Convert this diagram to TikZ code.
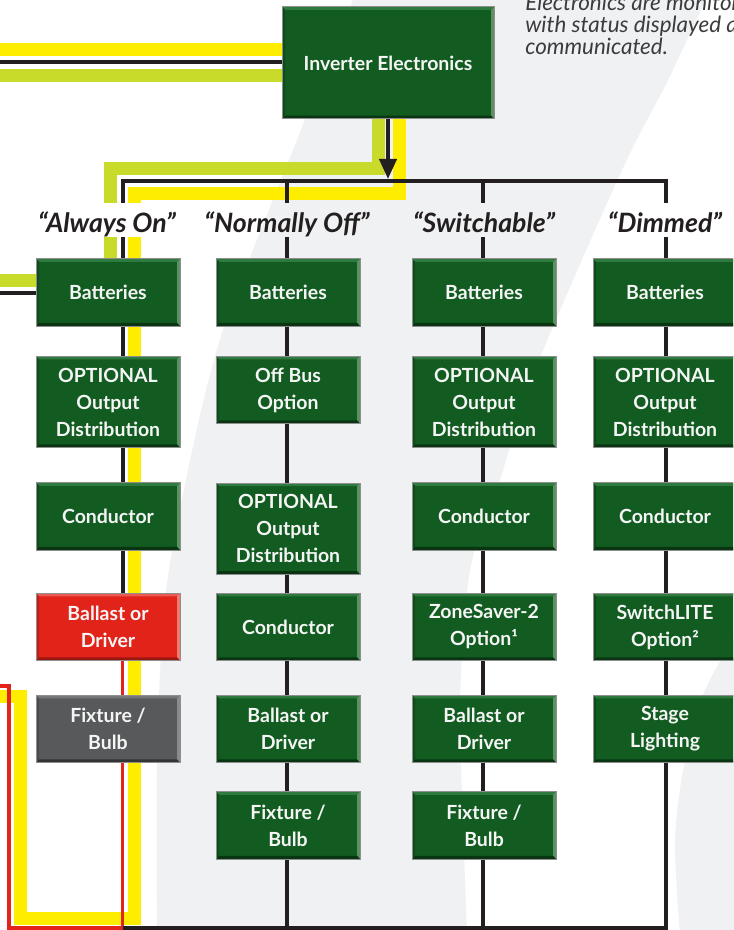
\documentclass[tikz,border=0pt]{standalone}
\usepackage{fontspec}
\setmainfont{Lato}
\usetikzlibrary{arrows.meta}
\definecolor{bggray}{HTML}{F0F1F3}
\definecolor{ylw}{HTML}{FFED00}
\definecolor{lgrn}{HTML}{C9DB2A}
\definecolor{blk}{HTML}{231F20}
\definecolor{redw}{HTML}{E3241B}
\definecolor{boxedge}{HTML}{8E8E8E}
\definecolor{boxtext}{HTML}{F5F5F5}
\definecolor{gmain}{HTML}{125C21}
\definecolor{gtop}{HTML}{2F7A3E}
\definecolor{gright}{HTML}{5B9163}
\definecolor{gbot}{HTML}{0A3512}
\definecolor{gleft}{HTML}{0E4A1A}
\definecolor{rmain}{HTML}{E2231A}
\definecolor{rtop}{HTML}{EA5A52}
\definecolor{rright}{HTML}{EE7A72}
\definecolor{rbot}{HTML}{9B1711}
\definecolor{rleft}{HTML}{C01D16}
\definecolor{kmain}{HTML}{58595B}
\definecolor{ktop}{HTML}{77787A}
\definecolor{kright}{HTML}{8A8B8D}
\definecolor{kbot}{HTML}{333435}
\definecolor{kleft}{HTML}{4A4B4D}
\definecolor{notegray}{HTML}{3C3C3C}
\newcommand\boxfont{\fontsize{14.6pt}{20.25pt}\selectfont\bfseries}
\newcommand\labfont{\fontsize{20pt}{22pt}\selectfont\bfseries\itshape}
\newcommand\notefont{\fontsize{16.8pt}{16.5pt}\selectfont\itshape}
\newcommand\labtext[1]{\raisebox{-3.75pt}{#1}}
\pgfdeclarelayer{bg}
\pgfdeclarelayer{wires}
\pgfsetlayers{bg,wires,main}
\tikzset{
  bevelbox/.style n args={5}{fill=#1, draw=boxedge, line width=0.75pt,
    path picture={
      \fill[#2] (path picture bounding box.north west) -- (path picture bounding box.north east)
        -- ([shift={(-2.25pt,-2.25pt)}]path picture bounding box.north east)
        -- ([shift={(2.25pt,-2.25pt)}]path picture bounding box.north west) -- cycle;
      \fill[#3] (path picture bounding box.north east) -- (path picture bounding box.south east)
        -- ([shift={(-2.25pt,2.6pt)}]path picture bounding box.south east)
        -- ([shift={(-2.25pt,-2.25pt)}]path picture bounding box.north east) -- cycle;
      \fill[#4] (path picture bounding box.south west) -- (path picture bounding box.south east)
        -- ([shift={(-2.25pt,2.6pt)}]path picture bounding box.south east)
        -- ([shift={(2.25pt,2.6pt)}]path picture bounding box.south west) -- cycle;
      \fill[#5] (path picture bounding box.north west) -- (path picture bounding box.south west)
        -- ([shift={(2.25pt,2.6pt)}]path picture bounding box.south west)
        -- ([shift={(2.25pt,-2.25pt)}]path picture bounding box.north west) -- cycle;
    }},
  boxcommon/.style={minimum width=108pt, text=boxtext, font=\boxfont, align=center, inner sep=0pt},
  gbox/.style={bevelbox={gmain}{gtop}{gright}{gbot}{gleft}, boxcommon},
  rbox/.style={bevelbox={rmain}{rtop}{rright}{rbot}{rleft}, boxcommon},
  kbox/.style={bevelbox={kmain}{ktop}{kright}{kbot}{kleft}, boxcommon},
  oneline/.style={minimum height=50.6pt},
  threeline/.style={minimum height=68.6pt},
  lab/.style={font=\labfont, text=blk, inner sep=0pt, minimum height=25.5pt, text height=1.1em, text depth=0pt},
  wire/.style={draw=blk, line width=3pt},
  redwire/.style={draw=redw, line width=2.6pt},
  yband/.style={draw=ylw, line width=9.75pt, line join=miter},
  gband/.style={draw=lgrn, line width=9.75pt, line join=miter},
  note/.style={font=\notefont, text=notegray, anchor=base west, inner sep=0pt},
}
\begin{document}
\begin{tikzpicture}[x=0.75pt,y=-0.75pt]
\useasboundingbox (0,0) rectangle (733,930);
\begin{scope}
\clip (0,0) rectangle (733,930);
% background
\begin{pgfonlayer}{bg}
  \fill[white] (0,0) rectangle (733,930);
  \fill[bggray] plot[smooth] coordinates {(355,-5) (297,140) (223,330) (188,470) (165,600) (157,760) (157,935)}
     -- plot[smooth] coordinates {(467,935) (463,820) (460,700) (470,570) (500,480) (535,370) (622,170) (668,80) (708,-5)} -- cycle;
  \fill[bggray] plot[smooth] coordinates {(745,620) (705,690) (685,760) (675,840) (680,935)} -- (745,935) -- cycle;
\end{pgfonlayer}

% note text (top right, cut off by the page edge as in the original)
\node[note] (n1) at (525,11) {Electronics are monitored};
\node[note] (n2) at (525,33) {with status displayed and};
\node[note] (n3) at (525,55) {communicated.};

% inverter
\node[gbox, minimum width=159pt, minimum height=84pt] (inv) at (388,63) {Inverter Electronics};

% labels
\node[lab] (L1) at (107,220) {\labtext{“Always On”}};
\node[lab] (L2) at (287,220) {\labtext{“Normally Off”}};
\node[lab] (L3) at (484,220) {\labtext{“Switchable”}};
\node[lab] (L4) at (665,220) {\labtext{“Dimmed”}};

% column 1
\node[gbox, oneline] (A1) at (108,292.5) {Batteries};
\node[gbox, threeline] (B1) at (108,402) {OPTIONAL\\Output\\Distribution};
\node[gbox, oneline] (C1) at (108,516.5) {Conductor};
\node[rbox, oneline] (D1) at (108,627) {Ballast or\\Driver};
\node[kbox, oneline] (E1) at (108,729) {Fixture /\\Bulb};
% column 2
\node[gbox, oneline] (A2) at (288,292.5) {Batteries};
\node[gbox, oneline] (B2) at (288,390) {Off Bus\\Option};
\node[gbox, threeline] (C2) at (288,528.75) {OPTIONAL\\Output\\Distribution};
\node[gbox, oneline] (D2) at (288,627) {Conductor};
\node[gbox, oneline] (E2) at (288,729) {Ballast or\\Driver};
\node[gbox, oneline] (F2) at (288,825.5) {Fixture /\\Bulb};
% column 3
\node[gbox, oneline] (A3) at (484,292.5) {Batteries};
\node[gbox, threeline] (B3) at (484,402) {OPTIONAL\\Output\\Distribution};
\node[gbox, oneline] (C3) at (484,516.5) {Conductor};
\node[gbox, oneline] (D3) at (484,627) {ZoneSaver-2\\Option¹};
\node[gbox, oneline] (E3) at (484,729) {Ballast or\\Driver};
\node[gbox, oneline] (F3) at (484,825.5) {Fixture /\\Bulb};
% column 4
\node[gbox, oneline] (A4) at (665,292.5) {Batteries};
\node[gbox, threeline] (B4) at (665,402) {OPTIONAL\\Output\\Distribution};
\node[gbox, oneline] (C4) at (665,516.5) {Conductor};
\node[gbox, oneline] (D4) at (665,627) {SwitchLITE\\Option²};
\node[gbox, oneline] (E4) at (665,729) {Stage\\Lighting};

% named points
\coordinate (c1) at (122.5,181);
\coordinate (c2) at (287,181);
\coordinate (c3) at (483,181);
\coordinate (c4) at (666,181);
\coordinate (e1) at (122.5,928);
\coordinate (e2) at (287,928);
\coordinate (e3) at (483,928);
\coordinate (e4) at (666,928);
\coordinate (rA) at (9,928);
\coordinate (rB) at (9,686);
\coordinate (rC) at (0,686);
\coordinate (kL) at (0,292.5);
\coordinate (tY) at (0,49.5);
\coordinate (tK) at (0,62);
\coordinate (tG) at (0,75.5);
\coordinate (yA) at (399,193.5);
\coordinate (yB) at (134,193.5);
\coordinate (yC) at (134,918);
\coordinate (yD) at (20,918);
\coordinate (yE) at (20,696.5);
\coordinate (yF) at (0,696.5);
\coordinate (gA) at (378,169);
\coordinate (gB) at (110.5,169);
\coordinate (gC) at (110.5,280.5);
\coordinate (gD) at (0,280.5);

\begin{pgfonlayer}{wires}
  % top-left feeds
  \draw[yband] (tY) -- (tY -| inv.west);
  \draw[wire] (tK) -- (tK -| inv.west);
  \draw[gband] (tG) -- (tG -| inv.west);
  % green band
  \draw[gband] (inv.south -| gA) -- (gA) -- (gB) -- (gB |- L1.north);
  \draw[gband] (gB |- L1.south) -- (gC) -- (gD);
  % yellow band
  \draw[yband] (inv.south -| yA) -- (yA) -- (yB) -- (yB |- L1.north);
  \draw[yband] (yB |- L1.south) -- (yC) -- (yD) -- (yE) -- (yF);
  % bus
  \draw[wire] (c1 |- L1.north) -- (c1) -- (c4) -- (c4 |- L4.north);
  \draw[wire] (c2) -- (c2 |- L2.north);
  \draw[wire] (c3) -- (c3 |- L3.north);
  \draw[wire, -{Triangle[length=15pt,width=12.75pt]}, shorten >=1.5pt] (inv.south) -- (inv.south |- c1);
  % column 1
  \draw[wire] (c1 |- L1.south) -- (c1 |- A1.north);
  \foreach \a/\b in {A1/B1, B1/C1, C1/D1} \draw[wire] (c1 |- \a.south) -- (c1 |- \b.north);
  \draw[wire] (A1.west) -- (kL);
  \draw[redwire] (c1 |- D1.south) -- (c1 |- E1.north);
  \draw[redwire] (c1 |- E1.south) -- (e1) -- (rA) -- (rB) -- (rC);
  % column 2
  \draw[wire] (c2 |- L2.south) -- (c2 |- A2.north);
  \foreach \a/\b in {A2/B2, B2/C2, C2/D2, D2/E2, E2/F2} \draw[wire] (c2 |- \a.south) -- (c2 |- \b.north);
  \draw[wire] (c2 |- F2.south) -- (e2);
  % column 3
  \draw[wire] (c3 |- L3.south) -- (c3 |- A3.north);
  \foreach \a/\b in {A3/B3, B3/C3, C3/D3, D3/E3, E3/F3} \draw[wire] (c3 |- \a.south) -- (c3 |- \b.north);
  \draw[wire] (c3 |- F3.south) -- (e3);
  % column 4
  \draw[wire] (c4 |- L4.south) -- (c4 |- A4.north);
  \foreach \a/\b in {A4/B4, B4/C4, C4/D4, D4/E4} \draw[wire] (c4 |- \a.south) -- (c4 |- \b.north);
  \draw[wire] (c4 |- E4.south) -- (e4) -- (e1);
\end{pgfonlayer}
\end{scope}
\end{tikzpicture}
\end{document}
